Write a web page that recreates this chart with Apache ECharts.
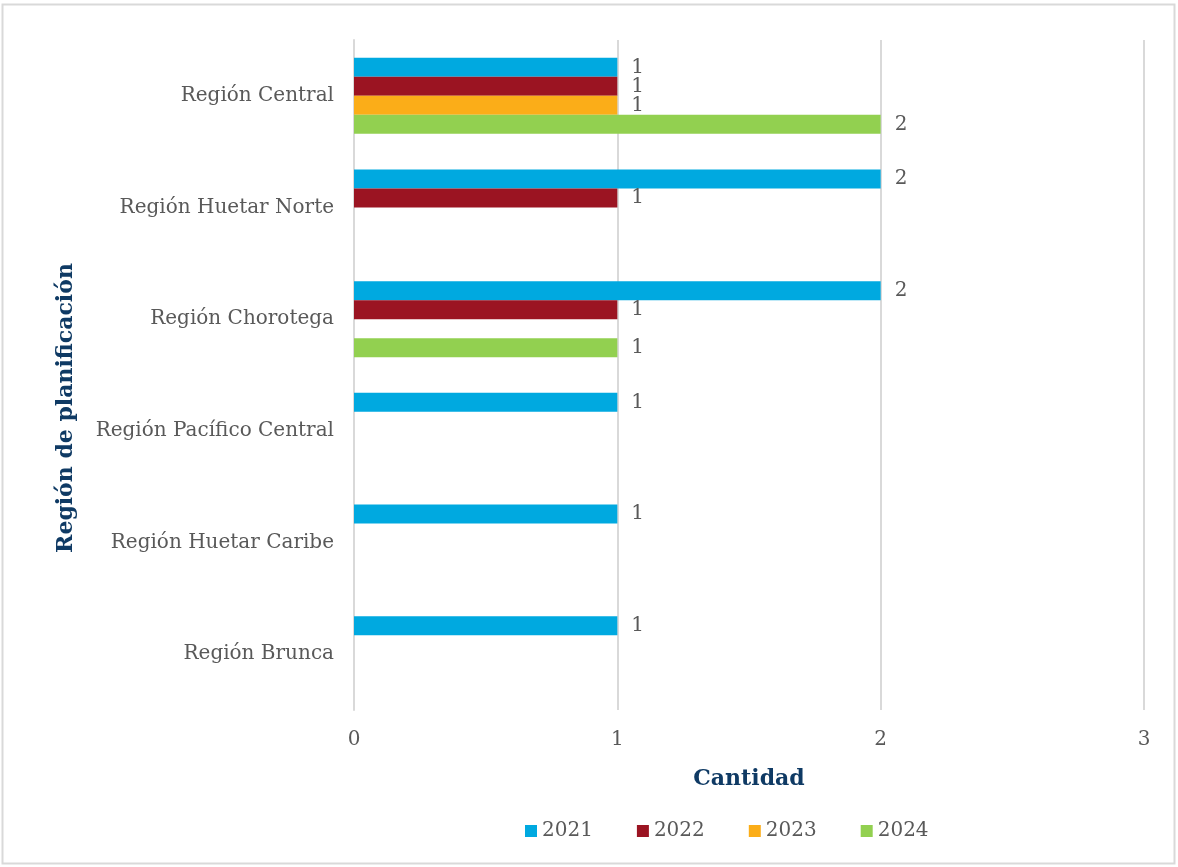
<!DOCTYPE html>
<html>
<head>
<meta charset="utf-8">
<script src="https://cdn.jsdelivr.net/npm/echarts@6/dist/echarts.min.js"></script>
<style>
  html, body { margin: 0; padding: 0; background: #fff; }
  #chart { width: 1178px; height: 867px; }
</style>
</head>
<body>
<div id="chart"></div>
<script>
var regiones = ['Región Central', 'Región Huetar Norte', 'Región Chorotega', 'Región Pacífico Central', 'Región Huetar Caribe', 'Región Brunca'];
var anios = ['2021', '2022', '2023', '2024'];
var datos2021 = [1, 2, 2, 1, 1, 1];
var datos2022 = [1, 1, 1, null, null, null];
var datos2023 = [1, null, null, null, null, null];
var datos2024 = [2, null, 1, null, null, null];
var colores = ['#00a9e0', '#9b1422', '#fbad18', '#92d050'];

var fuente = 'DejaVu Serif';
var gris = '#595959';

function serie(nombre, valores) {
    return {
        name: nombre,
        type: 'bar',
        data: valores,
        barGap: 0,
        barCategoryGap: '32%',
        label: {
            show: true,
            position: 'right',
            distance: 14,
            color: gris,
            fontFamily: fuente,
            fontSize: 20
        }
    };
}

var myChart = echarts.init(document.getElementById('chart'));
var option = {
    color: colores,
    textStyle: { fontFamily: fuente },
    grid: {
        left: 354,
        right: 34,
        top: 40,
        bottom: 157
    },
    legend: {
        bottom: 21,
        left: 520,
        itemWidth: 12,
        itemHeight: 12,
        itemGap: 44,
        icon: 'rect',
        textStyle: { color: gris, fontFamily: fuente, fontSize: 20 },
        data: anios
    },
    xAxis: {
        type: 'value',
        min: 0,
        max: 3,
        interval: 1,
        name: 'Cantidad',
        nameLocation: 'middle',
        nameGap: 58,
        nameTextStyle: { color: '#0f3a64', fontWeight: 'bold', fontSize: 22, fontFamily: fuente },
        axisLine: { show: false },
        axisTick: { show: false },
        axisLabel: { color: gris, fontSize: 20, margin: 20, fontFamily: fuente },
        splitLine: { lineStyle: { color: '#d9d9d9', width: 2 } }
    },
    yAxis: {
        type: 'category',
        inverse: true,
        data: regiones,
        axisLine: { show: true, lineStyle: { color: '#d9d9d9', width: 2 } },
        axisTick: { show: false },
        axisLabel: { color: gris, fontSize: 20, margin: 20, padding: [6, 0, 0, 0], fontFamily: fuente }
    },
    graphic: [
        {
            type: 'rect',
            shape: { x: 2.5, y: 4.5, width: 1172, height: 859 },
            style: { fill: null, stroke: '#d9d9d9', lineWidth: 2 },
            silent: true
        },
        {
            type: 'text',
            x: 66,
            y: 408,
            rotation: Math.PI / 2,
            style: {
                text: 'Región de planificación',
                fill: '#0f3a64',
                font: 'bold 22px "DejaVu Serif"',
                align: 'center',
                verticalAlign: 'middle'
            }
        }
    ],
    series: [
        serie(anios[0], datos2021),
        serie(anios[1], datos2022),
        serie(anios[2], datos2023),
        serie(anios[3], datos2024)
    ]
};
myChart.setOption(option);
</script>
</body>
</html>
